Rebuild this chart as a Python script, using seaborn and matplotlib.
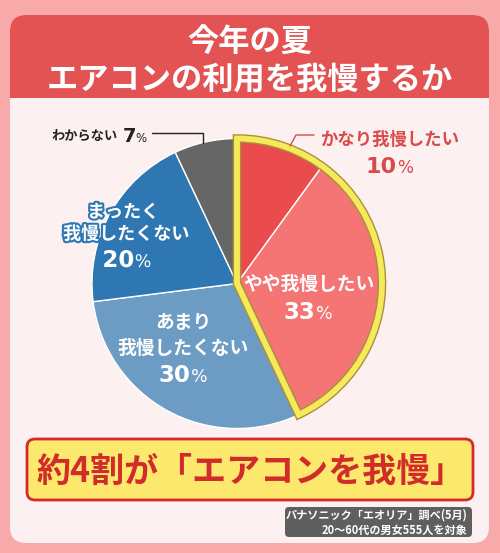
import numpy as np
import matplotlib
matplotlib.use("Agg")
import matplotlib.pyplot as plt
import matplotlib.patheffects as pe
import seaborn as sns
from matplotlib.patches import FancyBboxPatch, Rectangle, Wedge

# ---- data ----
categories = ["かなり我慢したい", "やや我慢したい", "あまり\n我慢したくない", "まったく\n我慢したくない", "わからない"]
values = [10, 33, 30, 20, 7]
colors = ["#ea4b4d", "#f57474", "#6c9cc4", "#2e77b3", "#666666"]
title_lines = ["今年の夏", "エアコンの利用を我慢するか"]
headline = "約4割が「エアコンを我慢」"
source_lines = ["パナソニック「エオリア」調べ(5月)", "20〜60代の男女555人を対象"]

sns.set_theme(style="white")
plt.rcParams['font.family'] = ['Noto Sans CJK JP', 'DejaVu Sans']
plt.rcParams['font.weight'] = 'bold'

W, H = 500, 553
fig = plt.figure(figsize=(5, 5.53), dpi=100)
fig.patch.set_facecolor('#f8a9aa')

bg = fig.add_axes([0, 0, 1, 1])
bg.set_xlim(0, W); bg.set_ylim(H, 0); bg.axis('off')

# card
bg.add_patch(FancyBboxPatch((10, 15), 479, 528, boxstyle="round,pad=0,rounding_size=16",
                            fc='#fdf0f1', ec='none'))
# header
bg.add_patch(FancyBboxPatch((10, 15), 479, 83, boxstyle="round,pad=0,rounding_size=16",
                            fc='#e35353', ec='none'))
bg.add_patch(Rectangle((10, 60), 479, 38, fc='#e35353', ec='none'))
bg.text(250, 42, title_lines[0], ha='center', va='center', fontsize=22.5, color='white', weight='bold')
bg.text(250, 79, title_lines[1], ha='center', va='center', fontsize=22.5, color='white', weight='bold')

# headline box
bg.add_patch(FancyBboxPatch((27, 439), 446, 61, boxstyle="round,pad=0,rounding_size=8",
                            fc='#fce86c', ec='#d12b2b', lw=2))
bg.text(251, 471, headline, ha='center', va='center', fontsize=24.5, color='#d12b2b', weight='bold')

# source box
bg.add_patch(FancyBboxPatch((285, 507), 187, 30, boxstyle="round,pad=0,rounding_size=4",
                            fc='#5f5f5f', ec='none'))
bg.text(467, 515, source_lines[0], ha='right', va='center', fontsize=8, color='white', weight='bold')
bg.text(467, 530, source_lines[1], ha='right', va='center', fontsize=8, color='white', weight='bold')

# ---- pie ----
cx, cy, R = 237, 283.5, 145
S = 320
L = (S / 2) / R
ax = fig.add_axes([(cx - S / 2) / W, (H - cy - S / 2) / H, S / W, S / H])
ax.pie(values, colors=colors, startangle=90, counterclock=False,
       wedgeprops=dict(edgecolor='white', linewidth=1))
ax.set_xlim(-L, L); ax.set_ylim(-L, L)
ax.axis('off')
ax.patch.set_alpha(0)

cum = np.cumsum(values) / np.sum(values)
t1 = 90 - 360 * cum[1]
ax.add_patch(Wedge((0, 0), 1.0, t1, 90, fc='none', ec='#a8913a', lw=6.2, joinstyle='miter'))
ax.add_patch(Wedge((0, 0), 1.0, t1, 90, fc='none', ec='#f7ea5a', lw=4.2, joinstyle='miter'))

# ---- labels overlay ----
tx = fig.add_axes([0, 0, 1, 1])
tx.set_xlim(0, W); tx.set_ylim(H, 0); tx.axis('off'); tx.patch.set_alpha(0)
NUMFONT = 'DejaVu Sans'

def pct(x, y, num, size, color, psize=None, effects=None):
    psize = psize or size * 0.76
    nw = len(str(num)) * size * 1.389 * 0.66
    pw = psize * 1.389 * 0.9
    split = x - (nw + pw) / 2 + nw
    tx.text(split, y, str(num), ha='right', va='baseline', fontsize=size, color=color,
            family=NUMFONT, weight='bold', path_effects=effects)
    tx.text(split + 0.5, y, '%', ha='left', va='baseline', fontsize=psize, color=color,
            family=NUMFONT, weight='normal', path_effects=effects)

# 10%
red_txt = '#d94a4a'
tx.plot([290, 296, 314], [146, 135, 135], color=red_txt, lw=1)
tx.text(390, 140, categories[0], ha='center', va='center', fontsize=12.5, color=red_txt, weight='bold')
pct(390, 173, values[0], 16, red_txt)

# 33%
tx.text(309, 284, categories[1], ha='center', va='center', fontsize=13.5, color='white', weight='bold')
pct(308, 319, values[1], 16.5, 'white')

# 30%
l1, l2 = categories[2].split("\n")
tx.text(183, 323, l1, ha='center', va='center', fontsize=13.5, color='white', weight='bold')
tx.text(183, 348, l2, ha='center', va='center', fontsize=13.5, color='white', weight='bold')
pct(183, 382, values[2], 16.5, 'white')

# 20%
stroke = [pe.withStroke(linewidth=3, foreground=colors[3])]
l1, l2 = categories[3].split("\n")
tx.text(123, 212, l1, ha='center', va='center', fontsize=13, color='white', weight='bold', path_effects=stroke)
tx.text(126, 234, l2, ha='center', va='center', fontsize=13, color='white', weight='bold', path_effects=stroke)
pct(127, 267, values[3], 16.5, 'white', effects=stroke)

# 7%
tx.plot([152, 203, 203], [133, 133, 143], color='#222222', lw=1)
tx.text(118, 136, categories[4], ha='right', va='center', fontsize=9.5, color='#222222', weight='bold')
tx.text(123, 142, str(values[4]), ha='left', va='baseline', fontsize=14, color='#222222',
        family=NUMFONT, weight='bold')
tx.text(135, 142, '%', ha='left', va='baseline', fontsize=8.5, color='#222222',
        family=NUMFONT, weight='normal')

fig.savefig("out.png", dpi=100, facecolor=fig.get_facecolor())
